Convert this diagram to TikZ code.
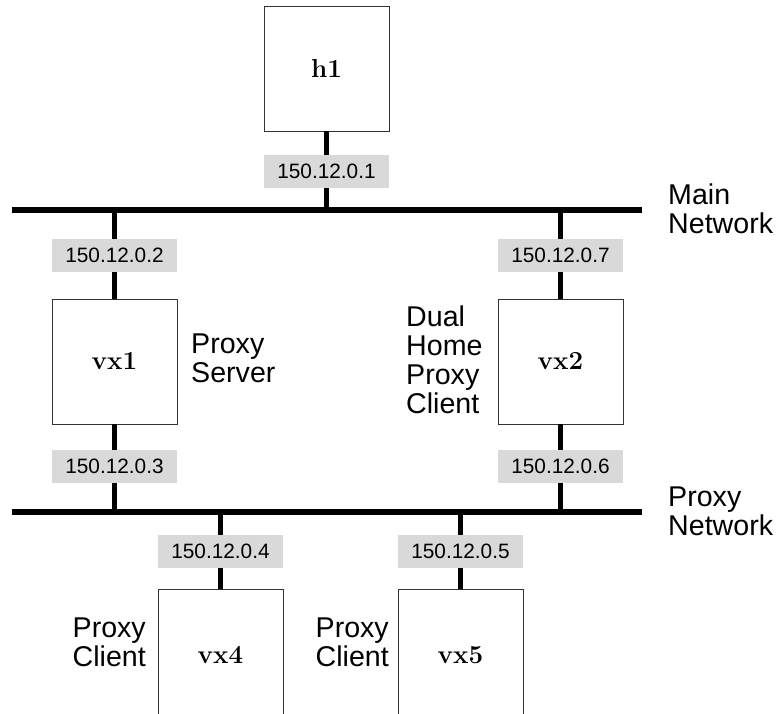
\documentclass[tikz,border=0pt]{standalone}
\usepackage{fontspec}
\newfontfamily\sansf{Liberation Sans}
\begin{document}
\begin{tikzpicture}[x=1pt,y=-1pt,
  hostbox/.style={draw=black!80,line width=0.8pt,fill=white,minimum width=125pt,minimum height=125pt,inner sep=0pt,
    font=\fontsize{26}{29}\selectfont\bfseries},
  hostlabel/.style={inner sep=0pt,font=\fontsize{26}{29}\selectfont\bfseries},
  iplabel/.style={fill=black!15,minimum width=125pt,minimum height=33pt,inner sep=0pt,
    font=\sansf\fontsize{20.8}{24}\selectfont},
  note/.style={inner sep=0pt,align=left,font=\sansf\fontsize{28.6}{29}\selectfont},
  bus/.style={line width=5.5pt},
  tap/.style={line width=5pt}]
\useasboundingbox (0,0) rectangle (779,713);
% boxes
\node[hostbox] (h1) at (326.5,68.5) {h1};
\node[hostbox] (vx1) at (114.5,361.5) {vx1};
\node[hostbox] (vx2) at (560.5,361.5) {vx2};
\node[hostbox,minimum height=140pt,anchor=north] (vx4) at (220.5,589) {};
\node[hostbox,minimum height=140pt,anchor=north] (vx5) at (460.5,589) {};
\node[hostlabel,anchor=base] (vx4l) at (220.5,663) {vx4};
\node[hostlabel,anchor=base] (vx5l) at (460.5,663) {vx5};
% bus ends
\coordinate (mainL) at (12,210);
\coordinate (mainR) at (642,210);
\coordinate (proxL) at (12,512);
\coordinate (proxR) at (642,512);
\draw[bus] (mainL) -- (mainR);
\draw[bus] (proxL) -- (proxR);
% taps
\draw[tap] (h1.south) -- (h1.south |- mainL);
\draw[tap] (vx1.north) -- (vx1.north |- mainL);
\draw[tap] (vx1.south) -- (vx1.south |- proxL);
\draw[tap] (vx2.north) -- (vx2.north |- mainL);
\draw[tap] (vx2.south) -- (vx2.south |- proxL);
\draw[tap] (vx4.north) -- (vx4.north |- proxL);
\draw[tap] (vx5.north) -- (vx5.north |- proxL);
% ip labels
\node[iplabel] (ip1) at (326.5,171.5) {150.12.0.1};
\node[iplabel] (ip2) at (114.5,255.5) {150.12.0.2};
\node[iplabel] (ip3) at (114.5,466.5) {150.12.0.3};
\node[iplabel] (ip7) at (560.5,255.5) {150.12.0.7};
\node[iplabel] (ip6) at (560.5,466.5) {150.12.0.6};
\node[iplabel] (ip4) at (220.5,551) {150.12.0.4};
\node[iplabel] (ip5) at (460.5,551) {150.12.0.5};
% notes
\node[note,anchor=west] (mainn) at (668,209) {Main\\Network};
\node[note,anchor=west] (proxn) at (668,511) {Proxy\\Network};
\node[note,anchor=west] (psrv) at (191,358) {Proxy\\Server};
\node[note,anchor=west] (dual) at (406,360) {Dual\\Home\\Proxy\\Client};
\node[note,anchor=east] (pc4) at (146,642) {Proxy\\Client};
\node[note,anchor=east] (pc5) at (389,642) {Proxy\\Client};
\end{tikzpicture}
\end{document}
